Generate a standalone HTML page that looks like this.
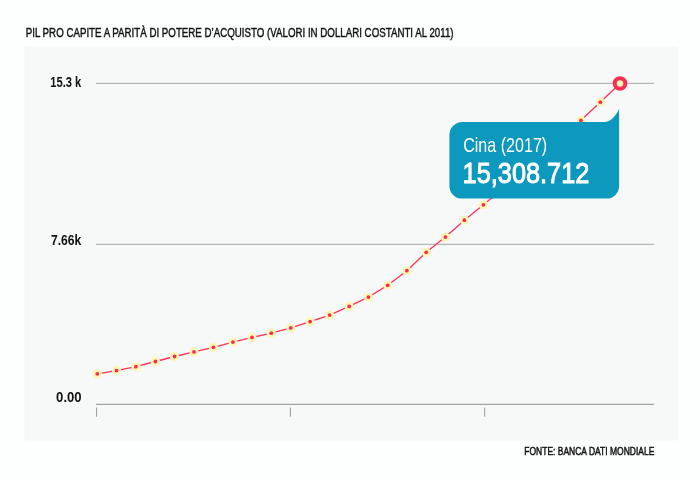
<!DOCTYPE html>
<html><head><meta charset="utf-8"><title>PIL pro capite</title>
<style>
html,body{margin:0;padding:0;background:#fff;}
body{width:700px;height:479px;overflow:hidden;font-family:"Liberation Sans",sans-serif;}
svg{display:block}
text{font-family:"Liberation Sans",sans-serif;}
</style></head><body>
<svg width="700" height="479" viewBox="0 0 700 479">
<rect x="0" y="0" width="700" height="479" fill="#fdfefe"/>
<rect x="24.3" y="46.2" width="654.3" height="394.2" fill="#f7f8f8"/>
<text x="25.7" y="37.4" font-size="11.9" fill="#111" stroke="#111" stroke-width="0.4" textLength="427.9" lengthAdjust="spacingAndGlyphs">PIL PRO CAPITE A PARITÀ DI POTERE D’ACQUISTO (VALORI IN DOLLARI COSTANTI AL 2011)</text>
<g stroke="#b6b6b6" stroke-width="1.2" fill="none">
<line x1="96" y1="83.4" x2="654" y2="83.4"/>
<line x1="96" y1="244.4" x2="654" y2="244.4"/>
<line x1="96" y1="404.4" x2="654" y2="404.4" stroke="#a2a2a2" stroke-width="1.1"/>
</g>
<g stroke="#9a9a9a" stroke-width="1" fill="none">
<line x1="96.6" y1="407.6" x2="96.6" y2="416.8"/>
<line x1="290.4" y1="407.6" x2="290.4" y2="416.8"/>
<line x1="484.7" y1="407.6" x2="484.7" y2="416.8"/>
</g>
<g font-weight="bold" font-size="14.4" fill="#111">
<text x="50.3" y="87.2" textLength="31" lengthAdjust="spacingAndGlyphs">15.3 k</text>
<text x="50.9" y="244.9" textLength="30.3" lengthAdjust="spacingAndGlyphs">7.66k</text>
<text x="56.1" y="402.2" textLength="25.5" lengthAdjust="spacingAndGlyphs">0.00</text>
</g>
<polyline points="97.3,373.8 116.5,370.6 135.9,366.7 155.4,361.5 174.6,356.5 194.0,351.9 213.4,347.3 232.9,342.1 252.0,337.4 271.3,333.2 290.8,327.9 310.1,321.6 329.6,315.1 349.2,306.4 368.4,297.1 387.7,285.3 406.9,270.7 426.2,252.3 445.4,237.1 464.4,220.2 483.4,204.8 503.0,188.5 522.4,172.0 541.8,155.5 561.3,138.5 580.9,120.3 600.3,102.2 620.0,83.5" fill="none" stroke="#fb3154" stroke-width="1.3" stroke-linejoin="round"/>
<circle cx="97.3" cy="373.8" r="4.6" fill="#fff5b4"/><circle cx="97.3" cy="373.8" r="1.9" fill="#fb2a50"/><circle cx="116.5" cy="370.6" r="4.6" fill="#fff5b4"/><circle cx="116.5" cy="370.6" r="1.9" fill="#fb2a50"/><circle cx="135.9" cy="366.7" r="4.6" fill="#fff5b4"/><circle cx="135.9" cy="366.7" r="1.9" fill="#fb2a50"/><circle cx="155.4" cy="361.5" r="4.6" fill="#fff5b4"/><circle cx="155.4" cy="361.5" r="1.9" fill="#fb2a50"/><circle cx="174.6" cy="356.5" r="4.6" fill="#fff5b4"/><circle cx="174.6" cy="356.5" r="1.9" fill="#fb2a50"/><circle cx="194.0" cy="351.9" r="4.6" fill="#fff5b4"/><circle cx="194.0" cy="351.9" r="1.9" fill="#fb2a50"/><circle cx="213.4" cy="347.3" r="4.6" fill="#fff5b4"/><circle cx="213.4" cy="347.3" r="1.9" fill="#fb2a50"/><circle cx="232.9" cy="342.1" r="4.6" fill="#fff5b4"/><circle cx="232.9" cy="342.1" r="1.9" fill="#fb2a50"/><circle cx="252.0" cy="337.4" r="4.6" fill="#fff5b4"/><circle cx="252.0" cy="337.4" r="1.9" fill="#fb2a50"/><circle cx="271.3" cy="333.2" r="4.6" fill="#fff5b4"/><circle cx="271.3" cy="333.2" r="1.9" fill="#fb2a50"/><circle cx="290.8" cy="327.9" r="4.6" fill="#fff5b4"/><circle cx="290.8" cy="327.9" r="1.9" fill="#fb2a50"/><circle cx="310.1" cy="321.6" r="4.6" fill="#fff5b4"/><circle cx="310.1" cy="321.6" r="1.9" fill="#fb2a50"/><circle cx="329.6" cy="315.1" r="4.6" fill="#fff5b4"/><circle cx="329.6" cy="315.1" r="1.9" fill="#fb2a50"/><circle cx="349.2" cy="306.4" r="4.6" fill="#fff5b4"/><circle cx="349.2" cy="306.4" r="1.9" fill="#fb2a50"/><circle cx="368.4" cy="297.1" r="4.6" fill="#fff5b4"/><circle cx="368.4" cy="297.1" r="1.9" fill="#fb2a50"/><circle cx="387.7" cy="285.3" r="4.6" fill="#fff5b4"/><circle cx="387.7" cy="285.3" r="1.9" fill="#fb2a50"/><circle cx="406.9" cy="270.7" r="4.6" fill="#fff5b4"/><circle cx="406.9" cy="270.7" r="1.9" fill="#fb2a50"/><circle cx="426.2" cy="252.3" r="4.6" fill="#fff5b4"/><circle cx="426.2" cy="252.3" r="1.9" fill="#fb2a50"/><circle cx="445.4" cy="237.1" r="4.6" fill="#fff5b4"/><circle cx="445.4" cy="237.1" r="1.9" fill="#fb2a50"/><circle cx="464.4" cy="220.2" r="4.6" fill="#fff5b4"/><circle cx="464.4" cy="220.2" r="1.9" fill="#fb2a50"/><circle cx="483.4" cy="204.8" r="4.6" fill="#fff5b4"/><circle cx="483.4" cy="204.8" r="1.9" fill="#fb2a50"/><circle cx="503.0" cy="188.5" r="4.6" fill="#fff5b4"/><circle cx="503.0" cy="188.5" r="1.9" fill="#fb2a50"/><circle cx="522.4" cy="172.0" r="4.6" fill="#fff5b4"/><circle cx="522.4" cy="172.0" r="1.9" fill="#fb2a50"/><circle cx="541.8" cy="155.5" r="4.6" fill="#fff5b4"/><circle cx="541.8" cy="155.5" r="1.9" fill="#fb2a50"/><circle cx="561.3" cy="138.5" r="4.6" fill="#fff5b4"/><circle cx="561.3" cy="138.5" r="1.9" fill="#fb2a50"/><circle cx="580.9" cy="120.3" r="4.6" fill="#fff5b4"/><circle cx="580.9" cy="120.3" r="1.9" fill="#fb2a50"/><circle cx="600.3" cy="102.2" r="4.6" fill="#fff5b4"/><circle cx="600.3" cy="102.2" r="1.9" fill="#fb2a50"/>
<circle cx="620" cy="83.5" r="5.3" fill="#fff5b4" stroke="#fb2d52" stroke-width="4"/>
<path d="M462.4 122 H604.5 C609 122 615 118 619.1 109 V186.1 a12.5 12.5 0 0 1 -12.5 12.5 H461.9 a12.5 12.5 0 0 1 -12.5 -12.5 V135 a13 13 0 0 1 13 -13 Z" fill="#0d98be"/>
<text x="463.2" y="152.2" font-size="20.4" fill="#fff" textLength="84" lengthAdjust="spacingAndGlyphs">Cina (2017)</text>
<text x="462.6" y="183.1" font-size="28.7" fill="#fff" stroke="#fff" stroke-width="0.95" textLength="126.8" lengthAdjust="spacingAndGlyphs">15,308.712</text>
<text x="524.3" y="454.8" font-size="11.5" fill="#111" stroke="#111" stroke-width="0.5" textLength="130" lengthAdjust="spacingAndGlyphs">FONTE: BANCA DATI MONDIALE</text>
</svg>
</body></html>
